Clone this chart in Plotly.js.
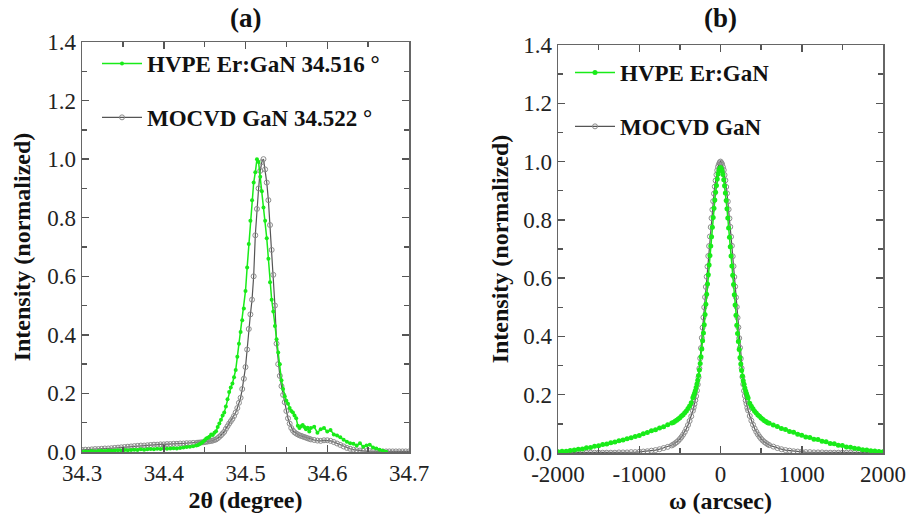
<!DOCTYPE html>
<html><head><meta charset="utf-8">
<script src="https://cdn.plot.ly/plotly-3.0.1.min.js"></script>
<style>html,body{margin:0;padding:0;background:#fff}#chart{width:910px;height:514px}</style>
</head><body><div id="chart"></div>
<script>
// ---------- Panel (a): 2theta scans ----------
const twoTheta = [
34.300,34.304,34.308,34.312,34.316,34.320,34.324,34.328,34.332,34.336,34.340,34.344,34.348,34.352,34.356,34.360,34.364,34.368,34.372,34.376,34.380,34.384,34.388,34.392,34.396,34.400,34.404,34.408,34.412,34.416,34.420,34.424,34.428,34.432,34.436,34.440,
34.442,34.444,34.446,34.448,34.450,34.452,34.454,34.456,34.458,34.460,34.462,34.464,34.466,34.468,34.470,34.472,34.474,34.476,34.478,34.480,34.482,34.484,34.486,34.488,34.490,34.492,34.494,34.496,34.498,34.500,
34.502,34.504,34.506,34.508,34.510,34.512,34.514,34.516,34.518,34.520,34.522,34.524,34.526,34.528,34.530,34.532,34.534,34.536,34.538,34.540,34.542,34.544,34.546,34.548,34.550,34.552,34.554,34.556,34.558,34.560,
34.562,34.564,34.566,34.568,34.570,34.572,34.574,34.576,34.578,34.580,
34.584,34.588,34.592,34.596,34.600,34.604,34.608,34.612,34.616,34.620,34.624,34.628,34.632,34.636,34.640,34.644,34.648,34.652,34.656,34.660,34.664,34.668,34.672,34.676,34.680,34.684,34.688,34.692,34.696,34.700
];
const hvpeXRD = [
0.001,0.002,0.001,0.003,0.002,0.003,0.004,0.003,0.005,0.004,0.005,0.006,0.005,0.007,0.006,0.007,0.008,0.007,0.009,0.008,0.009,0.010,0.009,0.011,0.010,0.012,0.011,0.012,0.013,0.012,0.014,0.015,0.017,0.018,0.020,0.022,
0.024,0.027,0.031,0.035,0.040,0.046,0.049,0.052,0.060,0.058,0.066,0.071,0.085,0.097,0.110,0.125,0.135,0.155,0.180,0.205,0.220,0.234,0.255,0.280,0.325,0.370,0.410,0.450,0.490,0.550,
0.630,0.710,0.790,0.860,0.920,0.955,1.000,0.990,0.940,0.890,0.835,0.790,0.730,0.660,0.580,0.520,0.480,0.430,0.385,0.340,0.300,0.245,0.215,0.190,0.175,0.165,0.150,0.140,0.135,0.125,
0.115,0.090,0.082,0.088,0.092,0.085,0.078,0.083,0.070,0.082,
0.086,0.066,0.078,0.082,0.070,0.075,0.060,0.056,0.050,0.042,0.035,0.030,0.028,0.022,0.030,0.018,0.022,0.025,0.015,0.012,0.008,0.004,0.001,null,null,null,null,null,null,null
];
const mocvdXRD = [
0.007,0.008,0.008,0.009,0.010,0.010,0.011,0.012,0.012,0.013,0.014,0.015,0.016,0.017,0.018,0.019,0.020,0.021,0.022,0.022,0.023,0.024,0.025,0.025,0.026,0.026,0.027,0.027,0.028,0.028,0.029,0.029,0.030,0.030,0.031,0.031,
0.032,0.032,0.033,0.033,0.034,0.035,0.036,0.037,0.038,0.039,0.041,0.043,0.047,0.052,0.057,0.063,0.069,0.079,0.088,0.097,0.105,0.113,0.123,0.135,0.150,0.168,0.185,0.215,0.250,0.290,
0.350,0.420,0.470,0.520,0.600,0.740,0.830,0.900,0.960,0.990,1.000,0.965,0.920,0.860,0.775,0.690,0.605,0.500,0.370,0.300,0.260,0.225,0.195,0.170,0.140,0.115,0.097,0.082,0.073,0.067,
0.063,0.060,0.057,0.055,0.053,0.051,0.049,0.047,0.045,0.043,
0.041,0.039,0.038,0.040,0.040,0.038,0.034,0.029,0.024,0.019,0.014,0.011,0.008,0.006,0.005,0.004,0.003,0.003,0.003,0.002,0.002,0.002,0.002,0.002,0.002,0.002,0.002,0.002,0.002,0.002
];

// ---------- Panel (b): rocking curves ----------
const omega = [
-2000,-1950,-1900,-1850,-1800,-1750,-1700,-1650,-1600,-1550,-1500,-1450,-1400,-1350,-1300,-1250,-1200,-1150,-1100,-1050,-1000,-950,-900,-850,-800,-750,-700,-650,
-600,-580,-560,-540,-520,-500,-480,-460,-440,-420,-400,-380,-360,-340,
-330,-320,-310,-300,-290,-280,-270,-260,-250,-240,-230,-220,-210,-200,-190,-180,-170,-160,-150,-140,-130,-120,-110,-100,-90,-80,-70,-60,-50,-40,-30,-20,-10,
0,
10,20,30,40,50,60,70,80,90,100,110,120,130,140,150,160,170,180,190,200,210,220,230,240,250,260,270,280,290,300,310,320,330,
340,360,380,400,420,440,460,480,500,520,540,560,580,600,
650,700,750,800,850,900,950,1000,1050,1100,1150,1200,1250,1300,1350,1400,1450,1500,1550,1600,1650,1700,1750,1800,1850,1900,1950,2000
];
const hvpeRC = [
0.004,0.006,0.006,0.009,0.010,0.013,0.014,0.018,0.019,0.023,0.025,0.029,0.031,0.035,0.038,0.042,0.045,0.049,0.052,0.057,0.060,0.066,0.070,0.076,0.080,0.086,0.090,0.097,
0.103,0.105,0.109,0.112,0.117,0.121,0.127,0.131,0.138,0.144,0.153,0.161,0.172,0.190,
0.197,0.205,0.214,0.225,0.237,0.250,0.266,0.285,0.307,0.330,0.357,0.385,0.412,0.440,0.475,0.510,0.545,0.580,0.612,0.645,0.678,0.710,0.742,0.775,0.808,0.840,0.868,0.895,0.918,0.940,0.957,0.970,0.977,
0.980,
0.976,0.968,0.956,0.938,0.917,0.892,0.866,0.838,0.806,0.772,0.740,0.708,0.676,0.642,0.610,0.578,0.543,0.508,0.473,0.438,0.410,0.383,0.355,0.328,0.305,0.283,0.264,0.248,0.236,0.223,0.213,0.204,0.196,
0.189,0.171,0.160,0.152,0.143,0.137,0.130,0.126,0.120,0.116,0.111,0.108,0.104,0.102,
0.096,0.091,0.084,0.081,0.074,0.071,0.064,0.061,0.055,0.053,0.047,0.046,0.040,0.039,0.033,0.032,0.027,0.026,0.021,0.020,0.016,0.015,0.011,0.010,0.008,0.007,0.005,0.004
];
const mocvdRC = [
0.001,0.001,0.001,0.001,0.001,0.001,0.001,0.001,0.001,0.001,0.001,0.001,0.001,0.001,0.001,0.002,0.002,0.002,0.003,0.003,0.004,0.005,0.006,0.008,0.010,0.013,0.017,0.021,
0.026,0.029,0.033,0.037,0.042,0.048,0.055,0.063,0.072,0.083,0.096,0.110,0.126,0.145,
0.156,0.168,0.181,0.195,0.214,0.235,0.260,0.290,0.325,0.360,0.395,0.430,0.465,0.500,0.535,0.570,0.605,0.640,0.676,0.710,0.743,0.775,0.806,0.835,0.864,0.890,0.914,0.935,0.955,0.970,0.982,0.990,0.997,
1.000,
0.996,0.991,0.981,0.971,0.954,0.936,0.913,0.891,0.863,0.836,0.805,0.776,0.742,0.711,0.675,0.641,0.604,0.571,0.534,0.501,0.464,0.431,0.394,0.361,0.324,0.291,0.261,0.236,0.213,0.196,0.180,0.169,0.155,
0.146,0.127,0.111,0.097,0.084,0.073,0.064,0.056,0.049,0.043,0.038,0.034,0.030,0.027,
0.022,0.017,0.013,0.010,0.008,0.006,0.005,0.004,0.003,0.003,0.002,0.002,0.002,0.001,0.001,0.001,0.001,0.001,0.001,0.001,0.001,0.001,0.001,0.001,0.001,0.001,0.001,0.001
];

const panelTitles = ['(a)', '(b)'];
const namesA = ['HVPE Er:GaN 34.516 °', 'MOCVD GaN 34.522 °'];
const namesB = ['HVPE Er:GaN', 'MOCVD GaN'];
const omegaTickVals = [-2000, -1000, 0, 1000, 2000];
const omegaTickText = ['-2000', '-1000', '0', '1000', '2000'];
const xTitles = ['2θ (degree)', 'ω (arcsec)'];
const yTitle = 'Intensity (normalized)';

const GREEN = 'rgb(25,235,25)';
const GRAYLINE = '#555555';
const GRAYMK = '#8c8c8c';
const FONT = 'Liberation Serif';

function greenTrace(x, y, name, xa, ya, leg, msize) {
  return {x, y, name, xaxis: xa, yaxis: ya, legend: leg, legendgroup: leg + 'g', legendrank: 1,
    type: 'scatter', mode: 'lines+markers',
    line: {color: GREEN, width: 1.5},
    marker: {color: GREEN, size: msize, symbol: 'circle'}};
}
function grayTrace(x, y, name, xa, ya, leg) {
  return {x, y, name, xaxis: xa, yaxis: ya, legend: leg, legendgroup: leg + 'm', legendrank: 2,
    type: 'scatter', mode: 'lines+markers',
    line: {color: GRAYLINE, width: 1.2},
    marker: {color: GRAYMK, size: 5, symbol: 'circle-open', line: {width: 1, color: GRAYMK}}};
}

const data = [
  grayTrace(twoTheta, mocvdXRD, namesA[1], 'x', 'y', 'legend'),
  greenTrace(twoTheta, hvpeXRD, namesA[0], 'x', 'y', 'legend', 4),
  grayTrace(omega, mocvdRC, namesB[1], 'x2', 'y2', 'legend2'),
  greenTrace(omega, hvpeRC, namesB[0], 'x2', 'y2', 'legend2', 5)
];

const W = 910, H = 514;
const axisBase = {
  showline: true, linecolor: '#666', linewidth: 1.5, mirror: 'ticks',
  ticks: 'inside', ticklen: 7, tickwidth: 1.5, tickcolor: '#555',
  tickfont: {family: FONT, size: 23, color: '#222'},
  showgrid: false, zeroline: false
};
const minorBase = {ticks: 'inside', ticklen: 5, tickwidth: 1.5, tickcolor: '#555', showgrid: false};
const titleFont = {family: FONT, size: 24, color: '#111', weight: 'bold'};

const layout = {
  width: W, height: H,
  margin: {l: 0, r: 0, t: 0, b: 0},
  paper_bgcolor: '#fff', plot_bgcolor: '#fff',
  font: {family: FONT},
  showlegend: true,
  xaxis: Object.assign({}, axisBase, {
    domain: [82 / W, 409 / W], anchor: 'y', range: [34.3, 34.7],
    tick0: 34.3, dtick: 0.1, tickformat: '.1f',
    minor: Object.assign({}, minorBase, {dtick: 0.05}),
    title: {text: xTitles[0], font: titleFont, standoff: 6}
  }),
  yaxis: Object.assign({}, axisBase, {
    domain: [1 - 452 / H, 1 - 42 / H], anchor: 'x', range: [0, 1.4],
    tick0: 0, dtick: 0.2, tickformat: '.1f',
    minor: Object.assign({}, minorBase, {dtick: 0.1}),
    title: {text: yTitle, font: titleFont, standoff: 10}
  }),
  xaxis2: Object.assign({}, axisBase, {
    domain: [558 / W, 883 / W], anchor: 'y2', range: [-2000, 2000],
    tickmode: 'array', tickvals: omegaTickVals, ticktext: omegaTickText,
    minor: Object.assign({}, minorBase, {tickmode: 'linear', tick0: 0, dtick: 500}),
    title: {text: xTitles[1], font: titleFont, standoff: 6}
  }),
  yaxis2: Object.assign({}, axisBase, {
    domain: [1 - 453 / H, 1 - 45 / H], anchor: 'x2', range: [0, 1.4],
    tick0: 0, dtick: 0.2, tickformat: '.1f',
    minor: Object.assign({}, minorBase, {dtick: 0.1}),
    title: {text: yTitle, font: titleFont, standoff: 8}
  }),
  legend: {
    x: 97 / W, xanchor: 'left', y: 1 - 42 / H, yanchor: 'top',
    bgcolor: 'rgba(0,0,0,0)', borderwidth: 0,
    font: {family: FONT, size: 23, color: '#111', weight: 'bold'},
    itemwidth: 40, tracegroupgap: 21, traceorder: 'grouped'
  },
  legend2: {
    x: 570 / W, xanchor: 'left', y: 1 - 51 / H, yanchor: 'top',
    bgcolor: 'rgba(0,0,0,0)', borderwidth: 0,
    font: {family: FONT, size: 23, color: '#111', weight: 'bold'},
    itemwidth: 40, tracegroupgap: 21, traceorder: 'grouped'
  },
  annotations: [
    {text: panelTitles[0], xref: 'paper', yref: 'paper', x: (82 + 409) / 2 / W, y: 1 - 18 / H,
     xanchor: 'center', yanchor: 'middle', showarrow: false, font: {family: FONT, size: 27, color: '#111', weight: 'bold'}},
    {text: panelTitles[1], xref: 'paper', yref: 'paper', x: (558 + 883) / 2 / W, y: 1 - 18 / H,
     xanchor: 'center', yanchor: 'middle', showarrow: false, font: {family: FONT, size: 27, color: '#111', weight: 'bold'}}
  ]
};

Plotly.newPlot('chart', data, layout, {displayModeBar: false, staticPlot: true});
</script>
</body></html>
